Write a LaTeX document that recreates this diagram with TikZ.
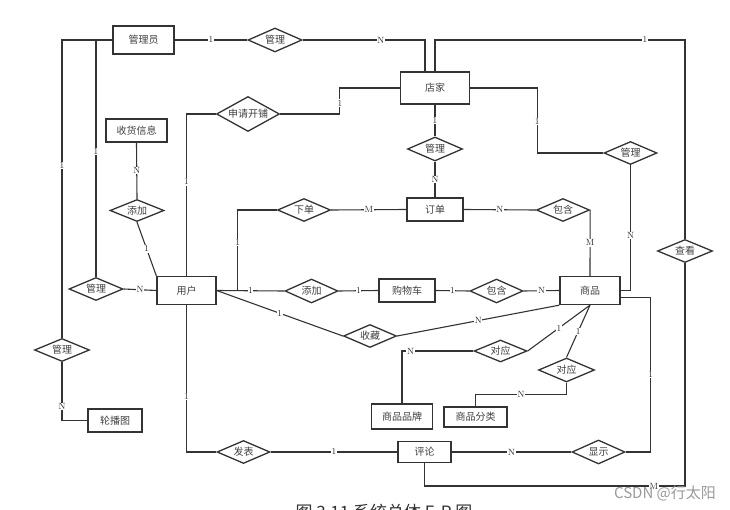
\documentclass[tikz,border=0pt]{standalone}
\usepackage{fontspec}
\newfontfamily\cjk{Noto Sans CJK SC}
\usetikzlibrary{shapes.geometric}

\begin{document}
\begin{tikzpicture}[x=1pt, y=-1pt,
    entity/.style={draw=black!80, line width=1.3pt, minimum width=#1, minimum height=23pt,
        inner sep=0pt, font=\cjk\fontsize{10}{12}\selectfont, text=black!75},
    entity/.default=56pt,
    rel/.style={diamond, draw=black!80, line width=1.3pt, aspect=2.3, minimum width=#1,
        minimum height=23pt, inner sep=0pt, font=\cjk\fontsize{10}{12}\selectfont, text=black!75},
    rel/.default=53pt,
    link/.style={draw=black!80, line width=1.1pt},
    card/.style={fill=white, inner sep=0.6pt, font=\small, text=black!85}
]
\useasboundingbox (0,0) rectangle (730,510);

% entities
\node[entity=61pt, minimum height=28pt] (gly)  at (143.5,40)  {管理员};
\node[entity=69pt, minimum height=32pt] (dj)   at (435,88)    {店家};
\node[entity=61pt]                      (shxx) at (136.5,130.5) {收货信息};
\node[entity=59pt, minimum height=28pt] (yh)   at (186.5,290.5) {用户};
\node[entity]                           (dd)   at (435,209.5) {订单};
\node[entity]                           (gwc)  at (407,290.5) {购物车};
\node[entity=60pt, minimum height=28pt] (sp)   at (590,290.5) {商品};
\node[entity=61pt, minimum height=25pt] (pp)   at (402,416.5) {商品品牌};
\node[entity=63pt, minimum height=20pt] (fl)   at (475.5,417) {商品分类};
\node[entity=53pt, minimum height=21pt] (pl)   at (424.5,452) {评论};
\node[entity=54pt]                      (lbt)  at (115,420.5) {轮播图};

% relationships
\node[rel=54pt, minimum height=24pt] (gl1)  at (275,40)    {管理};
\node[rel=63pt, minimum height=35pt] (sqkp) at (248,114)   {申请开铺};
\node[rel=55pt, minimum height=24pt] (gl2)  at (435,149)   {管理};
\node[rel]                           (gl3)  at (630.5,153) {管理};
\node[rel=55pt]                      (ck)   at (685,251)   {查看};
\node[rel=54pt, minimum height=22pt] (tj1)  at (137,210.5) {添加};
\node[rel=54pt]                      (gl5)  at (96,289)    {管理};
\node[rel=55pt]                      (gl4)  at (62,350)    {管理};
\node[rel]                           (xd)   at (304,210)   {下单};
\node[rel]                           (bh1)  at (563,210)   {包含};
\node[rel, minimum height=24pt]      (tj2)  at (311.5,291) {添加};
\node[rel, minimum height=24pt]      (bh2)  at (496.5,291) {包含};
\node[rel]                           (sc)   at (370,336)   {收藏};
\node[rel, minimum height=22pt]      (dy1)  at (500.5,351) {对应};
\node[rel=56pt, minimum height=24pt] (dy2)  at (566.5,370) {对应};
\node[rel]                           (fb)   at (243.5,452) {发表};
\node[rel, minimum height=24pt]      (xs)   at (598.5,452) {显示};

\coordinate (topR) at (685,40);
\coordinate (botR) at (685,486);

\foreach \a/\b/\l in {gly.east/gl1.west/1, dj.south/gl2.north/1, gl2.south/dd.north/N,
    gl5.east/yh.west/N, shxx.south/tj1.north/N, tj1.south/yh.north west/1,
    yh.east/tj2.west/1, xd.east/dd.west/M, tj2.east/gwc.west/1, gwc.east/bh2.west/1,
    bh2.east/sp.west/N, dd.east/bh1.west/N, bh1.east/sp.north/M, yh.east/sc.west/1,
    sc.east/sp.south west/N, sp.south/dy1.east/1, sp.south/dy2.north/1,
    xs.west/pl.east/N, fb.east/pl.west/1}
    \draw[link] (\a) -- node[card]{\l} (\b);

\draw[link] (gl1.east) -| node[card, pos=0.32]{N} ([xshift=-10pt]dj.north);
\draw[link] (dj.north) |- node[card, pos=0.92]{1} (topR) -- (ck.north);
\draw[link] (ck.south) -- (botR) -| node[card, pos=0.06]{M} (pl.south);
\draw[link] (dj.west) -- ++(-60,0) |- node[card, pos=0.29]{1} (sqkp.east);
\draw[link] (sqkp.west) -| node[card, pos=0.71]{1} (yh.north);
\draw[link] (dj.east) -- ++(67,0) |- node[card, pos=0.26]{1} (gl3.west);
\draw[link] (gl3.south) |- node[card, pos=0.28]{N} (sp.east);
\draw[link] (gly.west) -| node[card, pos=0.71]{1} (gl4.north);
\draw[link] (gl4.south) |- node[card, pos=0.38]{N} (lbt.west);
\draw[link] (gly.west -| gl5.north) -- node[card, pos=0.47]{1} (gl5.north);
\draw[link] (yh.east) -- ++(21,0) |- node[card, pos=0.3]{1} (xd.west);
\draw[link] (dy1.west) -| node[card, pos=0.44]{N} (pp.north);
\draw[link] (dy2.south) -- ++(0,12) -| node[card, pos=0.25]{N} (fl.north);
\draw[link] ([yshift=-7pt]sp.east) -- ++(30,0) |- node[card, pos=0.25]{1} (xs.east);
\draw[link] (yh.south) |- node[card, pos=0.31]{1} (fb.west);

\node[font=\cjk\fontsize{15}{15}\selectfont, text=black!40, inner sep=0pt] (wm) at (665,493) {CSDN @行太阳};
\begin{scope}
\clip (0,0) rectangle (730,510);
\node[anchor=north, inner sep=0pt, font=\cjk\fontsize{17}{17}\selectfont, text=black!80] (cap) at (384,504) {图 3.11 系统总体 E-R 图};
\end{scope}
\end{tikzpicture}
\end{document}
